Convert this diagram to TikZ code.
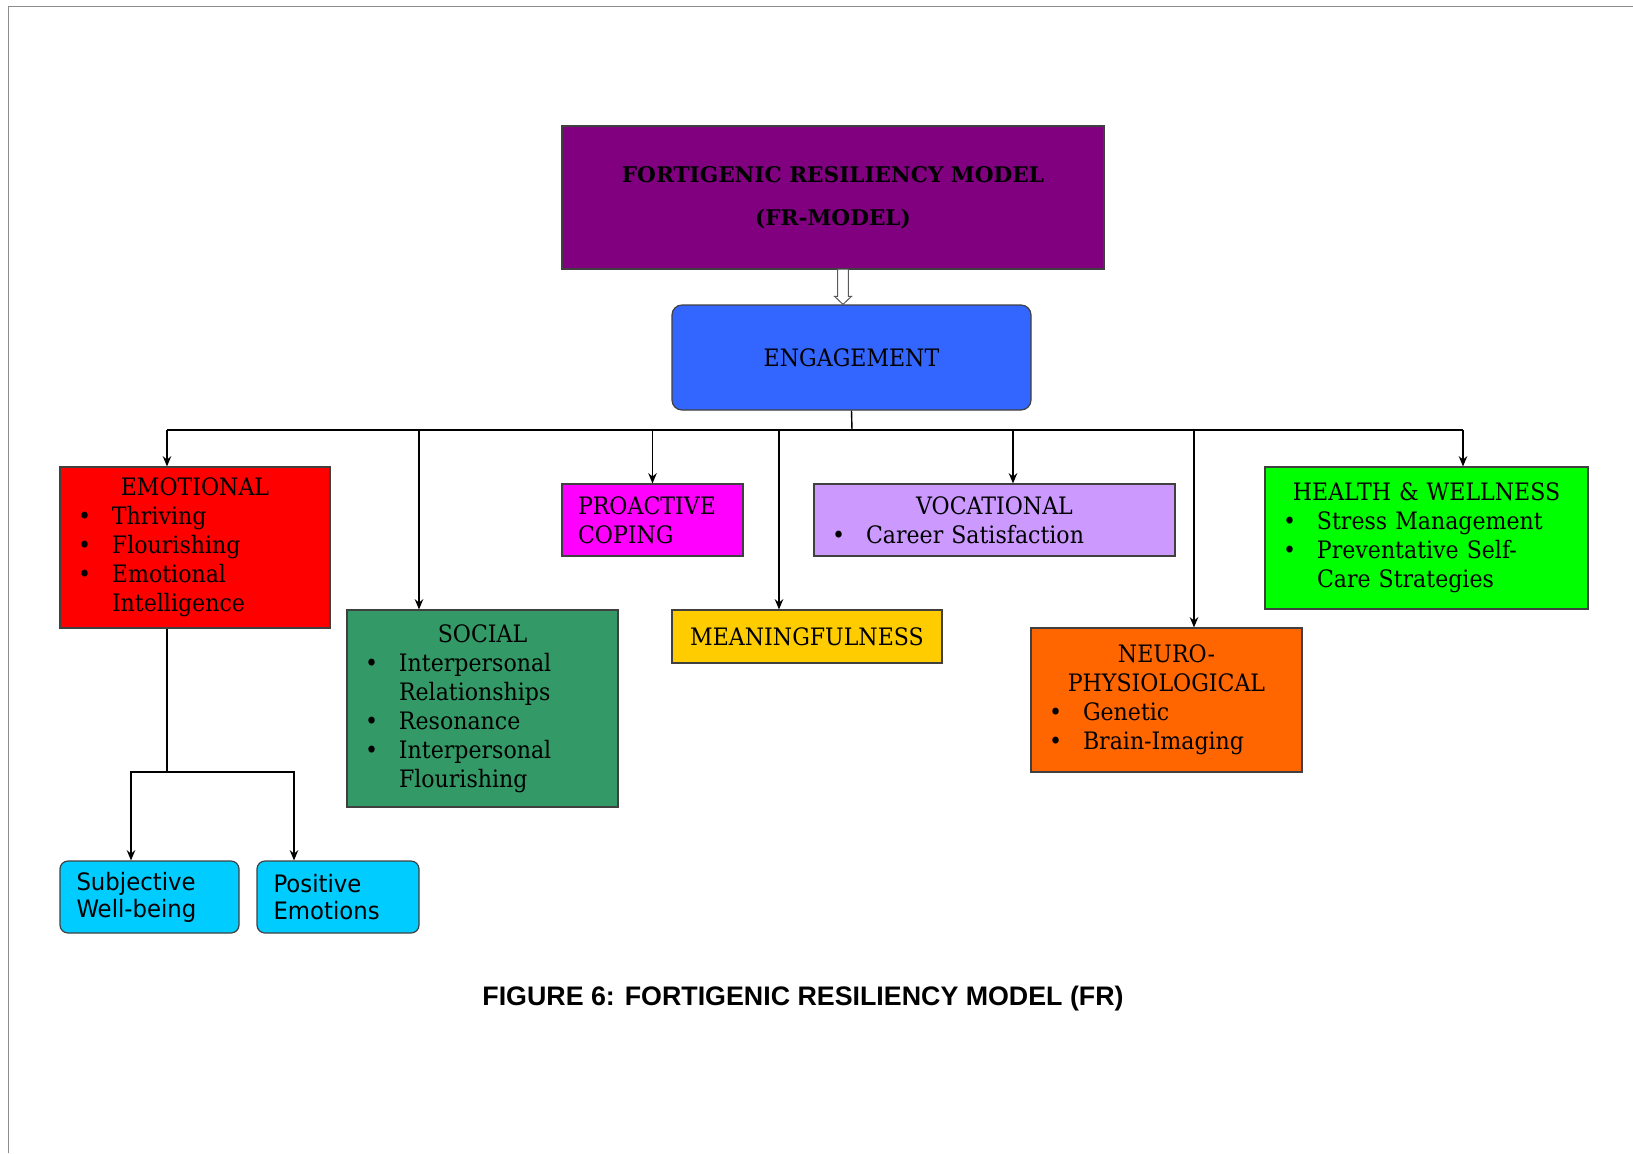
\documentclass[tikz,border=0pt]{standalone}
\usepackage{amsmath}
\usepackage{xcolor}
\usepackage{fontspec}
\setmainfont{DejaVu Serif}[FakeStretch=0.92]
\newfontfamily\titlefont{DejaVu Serif}
\newfontfamily\sansbox{DejaVu Sans}[FakeStretch=0.95]
\newfontfamily\capfont{Liberation Sans}
\usepackage{tikz}
\usetikzlibrary{arrows.meta}

\definecolor{frpurple}{RGB}{128,0,128}
\definecolor{frblue}{RGB}{51,102,255}
\definecolor{frred}{RGB}{255,0,0}
\definecolor{frgreen}{RGB}{51,153,102}
\definecolor{frmagenta}{RGB}{255,0,255}
\definecolor{frlavender}{RGB}{204,153,255}
\definecolor{frgold}{RGB}{255,204,0}
\definecolor{frorange}{RGB}{255,102,0}
\definecolor{frlime}{RGB}{0,255,0}
\definecolor{frcyan}{RGB}{0,204,255}

% header line and bullet line inside a box
\newcommand{\hdr}[1]{{\centering #1\par}}
\newcommand{\bitem}[1]{\noindent\hangindent=18pt\hangafter=1\makebox[18pt][l]{\hspace{1pt}\textbullet}#1\par}

\begin{document}
\begin{tikzpicture}[x=0.5pt,y=-0.5pt,>={Stealth[length=1.8mm,width=1.5mm]},
  box/.style={rectangle,draw=black!75,line width=0.6pt,inner xsep=8pt,inner ysep=3pt,font=\fontsize{12}{14.5}\selectfont,text=black},
  arr/.style={->,line width=0.7pt},
  wire/.style={line width=0.7pt},
  hollow/.style={draw=black!65,fill=white,line width=0.5pt,line join=miter}]
  \useasboundingbox (0,0) rectangle (1633,1153);
  \draw[black!45,line width=0.5pt] (8,1153) -- (8,6) -- (1633,6);

  % top of the model
  \node[box,fill=frpurple,minimum width=271pt,minimum height=71.5pt,align=center,font=\titlefont\bfseries\fontsize{10.8}{21.5}\selectfont] (title) at (833,197.5) {FORTIGENIC RESILIENCY MODEL\\(FR-MODEL)};
  \node[box,fill=frblue,rounded corners=5pt,minimum width=179.5pt,minimum height=52.5pt] (engage) at (851.5,357.5) {ENGAGEMENT};

  % the seven domains
  \node[box,fill=frred,minimum width=135pt,minimum height=80.5pt,text width=119pt,align=left] (emo) at (195,547.5) {\hdr{EMOTIONAL}\bitem{Thriving}\bitem{Flourishing}\bitem{Emotional\newline Intelligence}};
  \node[box,fill=frgreen,minimum width=135.5pt,minimum height=98.5pt,text width=119.5pt,align=left] (soc) at (482.5,708.5) {\hdr{SOCIAL}\bitem{Interpersonal\newline Relationships}\bitem{Resonance}\bitem{Interpersonal\newline Flourishing}};
  \node[box,fill=frmagenta,minimum width=90.5pt,minimum height=36pt,text width=74.5pt,align=left] (pro) at (652.5,520) {PROACTIVE\\COPING};
  \node[box,fill=frgold,minimum width=135pt,minimum height=26.5pt] (mean) at (807,636.5) {MEANINGFULNESS};
  \node[box,fill=frlavender,minimum width=180.5pt,minimum height=36pt,text width=164.5pt,align=left] (voc) at (994.5,520) {\hdr{VOCATIONAL}\bitem{Career Satisfaction}};
  \node[box,fill=frorange,minimum width=135.5pt,minimum height=72pt,text width=119.5pt,align=left] (neuro) at (1166.5,700) {\hdr{NEURO-}\hdr{PHYSIOLOGICAL}\bitem{Genetic}\bitem{Brain-Imaging}};
  \node[box,fill=frlime,minimum width=161.5pt,minimum height=71pt,text width=145.5pt,align=left] (health) at (1426.5,538) {\hdr{HEALTH \& WELLNESS}\bitem{Stress Management}\bitem{Preventative Self-\newline Care Strategies}};

  % below emotional
  \node[box,fill=frcyan,rounded corners=4pt,minimum width=89.5pt,minimum height=36pt,text width=73pt,align=left,font=\sansbox\fontsize{12}{13.5}\selectfont] (subj) at (149.5,897) {Subjective\\Well-being};
  \node[box,fill=frcyan,rounded corners=4pt,minimum width=81pt,minimum height=36pt,text width=64.5pt,align=left,font=\sansbox\fontsize{12}{13.5}\selectfont] (pos) at (338,897) {Positive\\Emotions};

  \node[font=\capfont\bfseries\fontsize{13.4}{16}\selectfont,inner sep=0pt] (caption) at (803,999) {FIGURE 6: FORTIGENIC RESILIENCY MODEL (FR)};

  % connectors
  \coordinate (dtop) at ([xshift=5pt]title.south);
  \coordinate (dtip) at (dtop |- engage.north);
  \draw[hollow] ([xshift=-2.65pt]dtop) -- ([xshift=-2.65pt,yshift=4pt]dtip) -- ([xshift=-4.2pt,yshift=4pt]dtip) -- (dtip)
    -- ([xshift=4.2pt,yshift=4pt]dtip) -- ([xshift=2.65pt,yshift=4pt]dtip) -- ([xshift=2.65pt]dtop);
  \coordinate (bus) at (852,430);
  \draw[wire] (engage.south) -- (bus);
  \draw[wire] ([xshift=-14pt]emo.north |- bus) -- ([xshift=18.25pt]health.north |- bus);
  \draw[arr] ([xshift=-14pt]emo.north |- bus) -- ([xshift=-14pt]emo.north);
  \draw[arr] ([xshift=-31.75pt]soc.north |- bus) -- ([xshift=-31.75pt]soc.north);
  \draw[arr] (pro.north |- bus) -- (pro.north);
  \draw[arr] ([xshift=-14pt]mean.north |- bus) -- ([xshift=-14pt]mean.north);
  \draw[arr] ([xshift=9.25pt]voc.north |- bus) -- ([xshift=9.25pt]voc.north);
  \draw[arr] ([xshift=13.75pt]neuro.north |- bus) -- ([xshift=13.75pt]neuro.north);
  \draw[arr] ([xshift=18.25pt]health.north |- bus) -- ([xshift=18.25pt]health.north);

  \coordinate (emosplit) at (167,772);
  \draw[wire] ([xshift=-14pt]emo.south) -- (emosplit);
  \draw[arr] (emosplit) -| ([xshift=-9.25pt]subj.north);
  \draw[arr] (emosplit) -| ([xshift=-22pt]pos.north);
\end{tikzpicture}
\end{document}
